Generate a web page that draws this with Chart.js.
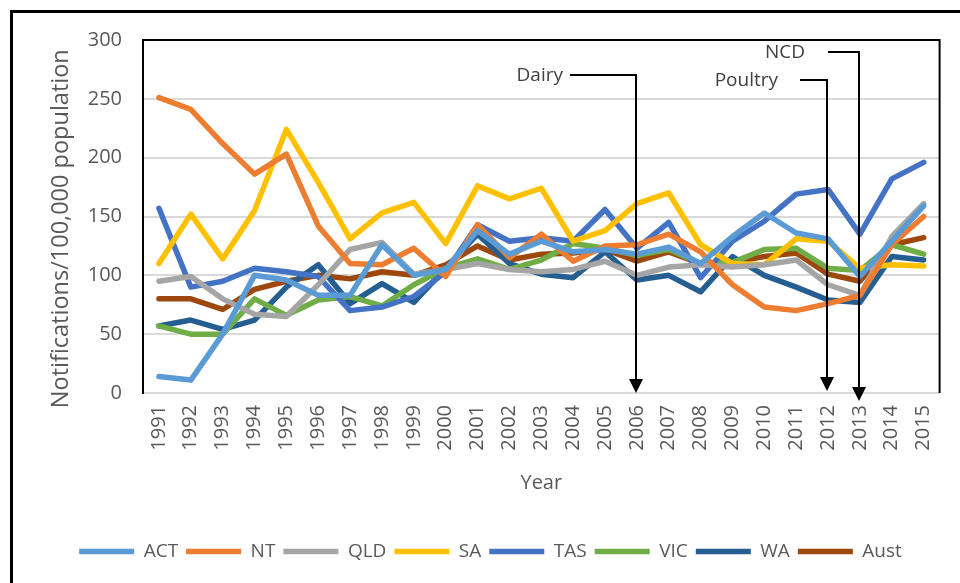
<!DOCTYPE html>
<html>
<head>
<meta charset="utf-8">
<script src="https://cdn.jsdelivr.net/npm/chart.js@4.4.1/dist/chart.umd.min.js"></script>
<style>
    html, body { margin: 0; padding: 0; background: #fff; }
</style>
</head>
<body>
<canvas id="notifChart" width="960" height="583"></canvas>
<script>
const years = ["1991", "1992", "1993", "1994", "1995", "1996", "1997", "1998", "1999", "2000",
    "2001", "2002", "2003", "2004", "2005", "2006", "2007", "2008", "2009", "2010",
    "2011", "2012", "2013", "2014", "2015"];

const act  = [14, 11, 50, 100, 96, 83, 83, 126, 100, 105, 138, 118, 129, 120, 122, 118, 124, 110, 133, 153, 136, 131, 99, 129, 159];
const nt   = [251, 241, 212, 186, 203, 142, 110, 109, 123, 99, 143, 115, 135, 112, 125, 126, 135, 120, 92, 73, 70, 76, 83, 126, 150];
const qld  = [95, 99, 80, 67, 65, 92, 122, 128, 101, 105, 110, 105, 103, 105, 112, 100, 107, 109, 107, 109, 113, 92, 83, 133, 161];
const sa   = [110, 152, 114, 155, 224, 179, 131, 153, 162, 127, 176, 165, 174, 129, 138, 161, 170, 126, 110, 109, 131, 129, 106, 109, 108];
const tas  = [157, 90, 95, 106, 103, 99, 70, 73, 82, 103, 143, 129, 132, 129, 156, 123, 145, 98, 129, 146, 169, 173, 135, 182, 196];
const vic  = [57, 50, 50, 80, 66, 79, 82, 74, 92, 106, 114, 105, 113, 127, 123, 117, 122, 110, 111, 122, 123, 106, 104, 126, 118];
const wa   = [57, 62, 54, 62, 90, 109, 76, 93, 77, 106, 135, 110, 101, 98, 120, 96, 100, 86, 116, 100, 90, 79, 77, 116, 113];
const aust = [80, 80, 71, 88, 95, 100, 97, 103, 100, 109, 125, 113, 118, 119, 122, 112, 120, 110, 111, 116, 119, 101, 95, 126, 132];

const yTicks = [0, 50, 100, 150, 200, 250, 300];

// events marked with arrows
const markerLabels = ["Dairy", "Poultry", "NCD"];
const markerYears  = ["2006", "2012", "2013"];

const textGrey = "#595959";
const font = "'Open Sans', sans-serif";

function series(label, values, color) {
    return {
        label: label,
        data: values,
        borderColor: color,
        backgroundColor: color,
        borderWidth: 5.5,
        borderCapStyle: "round",
        borderJoinStyle: "round",
        pointRadius: 0,
        tension: 0,
        fill: false,
    };
}

// outer frame, plot box and event arrows
const framePlugin = {
    id: "frames",
    beforeDraw(chart) {
        const ctx = chart.ctx;
        ctx.save();
        ctx.strokeStyle = "#000";
        ctx.lineWidth = 3;
        ctx.beginPath();
        ctx.moveTo(11.5, chart.height + 5);
        ctx.lineTo(11.5, 11.5);
        ctx.lineTo(chart.width + 5, 11.5);
        ctx.stroke();
        ctx.restore();
    },
    afterDraw(chart) {
        const ctx = chart.ctx;
        const area = chart.chartArea;
        const x = chart.scales.x;
        const y = chart.scales.y;
        ctx.save();
        ctx.strokeStyle = "#000";
        ctx.lineWidth = 2;
        ctx.beginPath();
        ctx.moveTo(area.left, area.top);
        ctx.lineTo(area.right, area.top);
        ctx.lineTo(area.right, area.bottom);
        ctx.stroke();

        const style = {
            Dairy:   { lineY: 75, arm: 66, gap: 7, tip: 0 },
            Poultry: { lineY: 80, arm: 27, gap: 22, tip: 2 },
            NCD:     { lineY: 52, arm: 31, gap: 23, tip: -8 },
        };
        ctx.font = "19px " + font;
        ctx.textAlign = "right";
        ctx.textBaseline = "middle";
        markerLabels.forEach((label, i) => {
            const s = style[label];
            const px = Math.round(x.getPixelForValue(years.indexOf(markerYears[i]))) - 1;
            const tipY = y.getPixelForValue(0) - s.tip;
            const startX = px - s.arm;
            ctx.fillStyle = "#404040";
            ctx.fillText(label, startX - s.gap, s.lineY + 1);
            ctx.strokeStyle = "#000";
            ctx.lineWidth = 2;
            ctx.beginPath();
            ctx.moveTo(startX, s.lineY);
            ctx.lineTo(px, s.lineY);
            ctx.lineTo(px, tipY - 12);
            ctx.stroke();
            ctx.fillStyle = "#000";
            ctx.beginPath();
            ctx.moveTo(px - 7, tipY - 14);
            ctx.lineTo(px + 7, tipY - 14);
            ctx.lineTo(px, tipY);
            ctx.closePath();
            ctx.fill();
        });
        ctx.restore();
    },
};

const canvas = document.getElementById("notifChart");

new Chart(canvas, {
    type: "line",
    data: {
        labels: years,
        datasets: [
            series("ACT", act, "#5B9BD5"),
            series("NT", nt, "#ED7D31"),
            series("QLD", qld, "#A5A5A5"),
            series("SA", sa, "#FFC000"),
            series("TAS", tas, "#4472C4"),
            series("VIC", vic, "#70AD47"),
            series("WA", wa, "#255E91"),
            series("Aust", aust, "#9E480E"),
        ],
    },
    options: {
        responsive: false,
        animation: false,
        layout: {
            padding: { left: 38, right: 17, top: 40, bottom: 12 },
        },
        plugins: {
            tooltip: { enabled: false },
            legend: {
                position: "bottom",
                labels: {
                    usePointStyle: true,
                    pointStyle: "line",
                    pointStyleWidth: 55,
                    boxHeight: 5,
                    padding: 8,
                    color: textGrey,
                    font: { family: font, size: 19 },
                },
            },
        },
        scales: {
            x: {
                offset: true,
                grid: { display: false, drawTicks: false },
                border: { display: true, color: "#d9d9d9", width: 2 },
                ticks: {
                    minRotation: 90,
                    maxRotation: 90,
                    autoSkip: false,
                    padding: 12,
                    color: textGrey,
                    font: { family: font, size: 20 },
                },
                title: {
                    display: true,
                    text: "Year",
                    color: textGrey,
                    font: { family: font, size: 20 },
                    padding: { top: 4, bottom: 39 },
                },
                afterFit(scale) { scale.height = 141; },
            },
            y: {
                min: 0,
                max: 300,
                afterBuildTicks(scale) { scale.ticks = yTicks.map(v => ({ value: v })); },
                grid: { color: "#d9d9d9", lineWidth: 2, drawTicks: false },
                border: { display: true, color: "#000", width: 2 },
                ticks: {
                    padding: 21,
                    color: textGrey,
                    font: { family: font, size: 20 },
                },
                title: {
                    display: true,
                    text: "Notifications/100,000 population    ",
                    color: textGrey,
                    font: { family: font, size: 23.5 },
                    padding: { top: 9, bottom: 4 },
                },
                afterFit(scale) { scale.width = 105; },
            },
        },
    },
    plugins: [framePlugin],
});
</script>
</body>
</html>
